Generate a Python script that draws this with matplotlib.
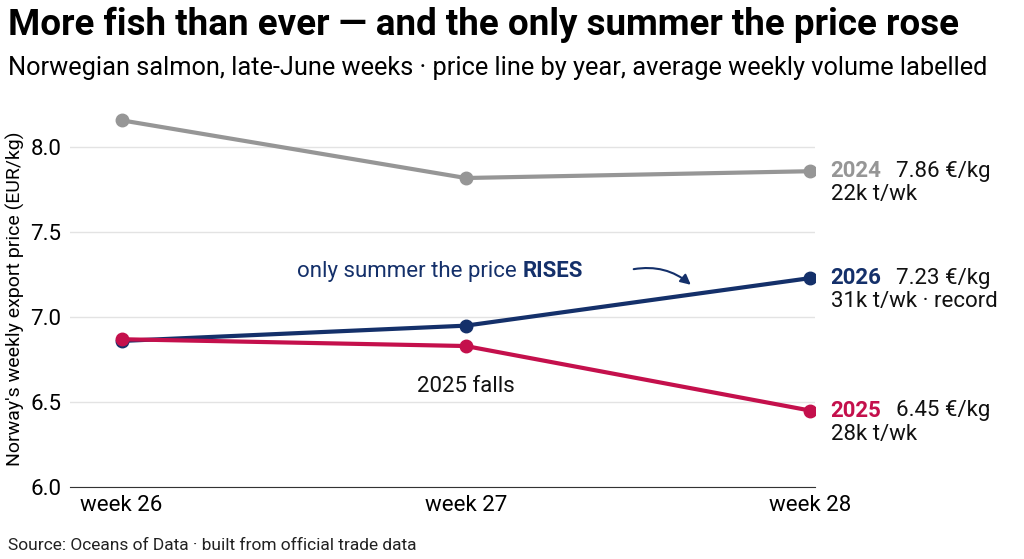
import matplotlib.pyplot as plt
from matplotlib.patches import FancyArrowPatch

plt.rcParams['font.family'] = ['Roboto', 'DejaVu Sans']

weeks = ["week 26", "week 27", "week 28"]
years = ["2024", "2026", "2025"]
prices = {
    "2024": [8.16, 7.82, 7.86],
    "2026": [6.86, 6.95, 7.23],
    "2025": [6.87, 6.83, 6.45],
}
volumes = {"2024": "22k t/wk", "2026": "31k t/wk · record", "2025": "28k t/wk"}
colors = {"2024": "#969696", "2026": "#14306a", "2025": "#c4104c"}

fig = plt.figure(figsize=(10.24, 5.59), dpi=100)
ax = fig.add_axes([0.068, 0.129, 0.728, 0.674])

x = list(range(len(weeks)))
for y in years:
    ax.plot(x, prices[y], color=colors[y], lw=3, marker="o", ms=9, zorder=3)
    last = prices[y][-1]
    ax.text(2.06, last, y, color=colors[y], fontsize=16, fontweight="bold",
            va="center", ha="left", clip_on=False)
    ax.text(2.25, last, f"{last:.2f} €/kg", color="#111111", fontsize=16,
            va="center", ha="left", clip_on=False)
    ax.text(2.06, last - 0.14, volumes[y], color="#111111", fontsize=16,
            va="center", ha="left", clip_on=False)

t1 = ax.text(0.51, 7.27, "only summer the price ", color=colors["2026"], fontsize=16,
             va="center", ha="left")
ax.annotate("RISES", xy=(1, 0.5), xycoords=t1, color=colors["2026"], fontsize=16,
            fontweight="bold", va="center", ha="left")
ax.add_patch(FancyArrowPatch((1.48, 7.28), (1.66, 7.18), connectionstyle="arc3,rad=-0.25",
                             arrowstyle="-|>", mutation_scale=15, color=colors["2026"], lw=1.5))
ax.text(1.0, 6.59, "2025 falls", color="#111111", fontsize=16, ha="center", va="center")

ax.set_xlim(-0.151, 2.015)
ax.set_ylim(6.0, 8.22)
ax.set_xticks(x)
ax.set_xticklabels(weeks, fontsize=16)
ax.set_yticks([6.0, 6.5, 7.0, 7.5, 8.0])
ax.set_yticklabels(["6.0", "6.5", "7.0", "7.5", "8.0"], fontsize=16)
ax.grid(axis="y", color="#e3e3e3", lw=1)
ax.tick_params(length=0, pad=6)
for s in ax.spines.values():
    s.set_visible(False)
ax.spines["bottom"].set_visible(True)
ax.spines["bottom"].set_color("#333333")
ax.set_ylabel("Norway's weekly export price (EUR/kg)", fontsize=14)

fig.text(0.008, 0.955, "More fish than ever — and the only summer the price rose",
         fontsize=26.5, fontweight="bold", va="center")
fig.text(0.008, 0.878, "Norwegian salmon, late-June weeks · price line by year, average weekly volume labelled",
         fontsize=18.3, va="center")
fig.text(0.008, 0.025, "Source: Oceans of Data · built from official trade data",
         fontsize=12.5, color="#222222", va="center")

fig.savefig("out.png", dpi=100)
